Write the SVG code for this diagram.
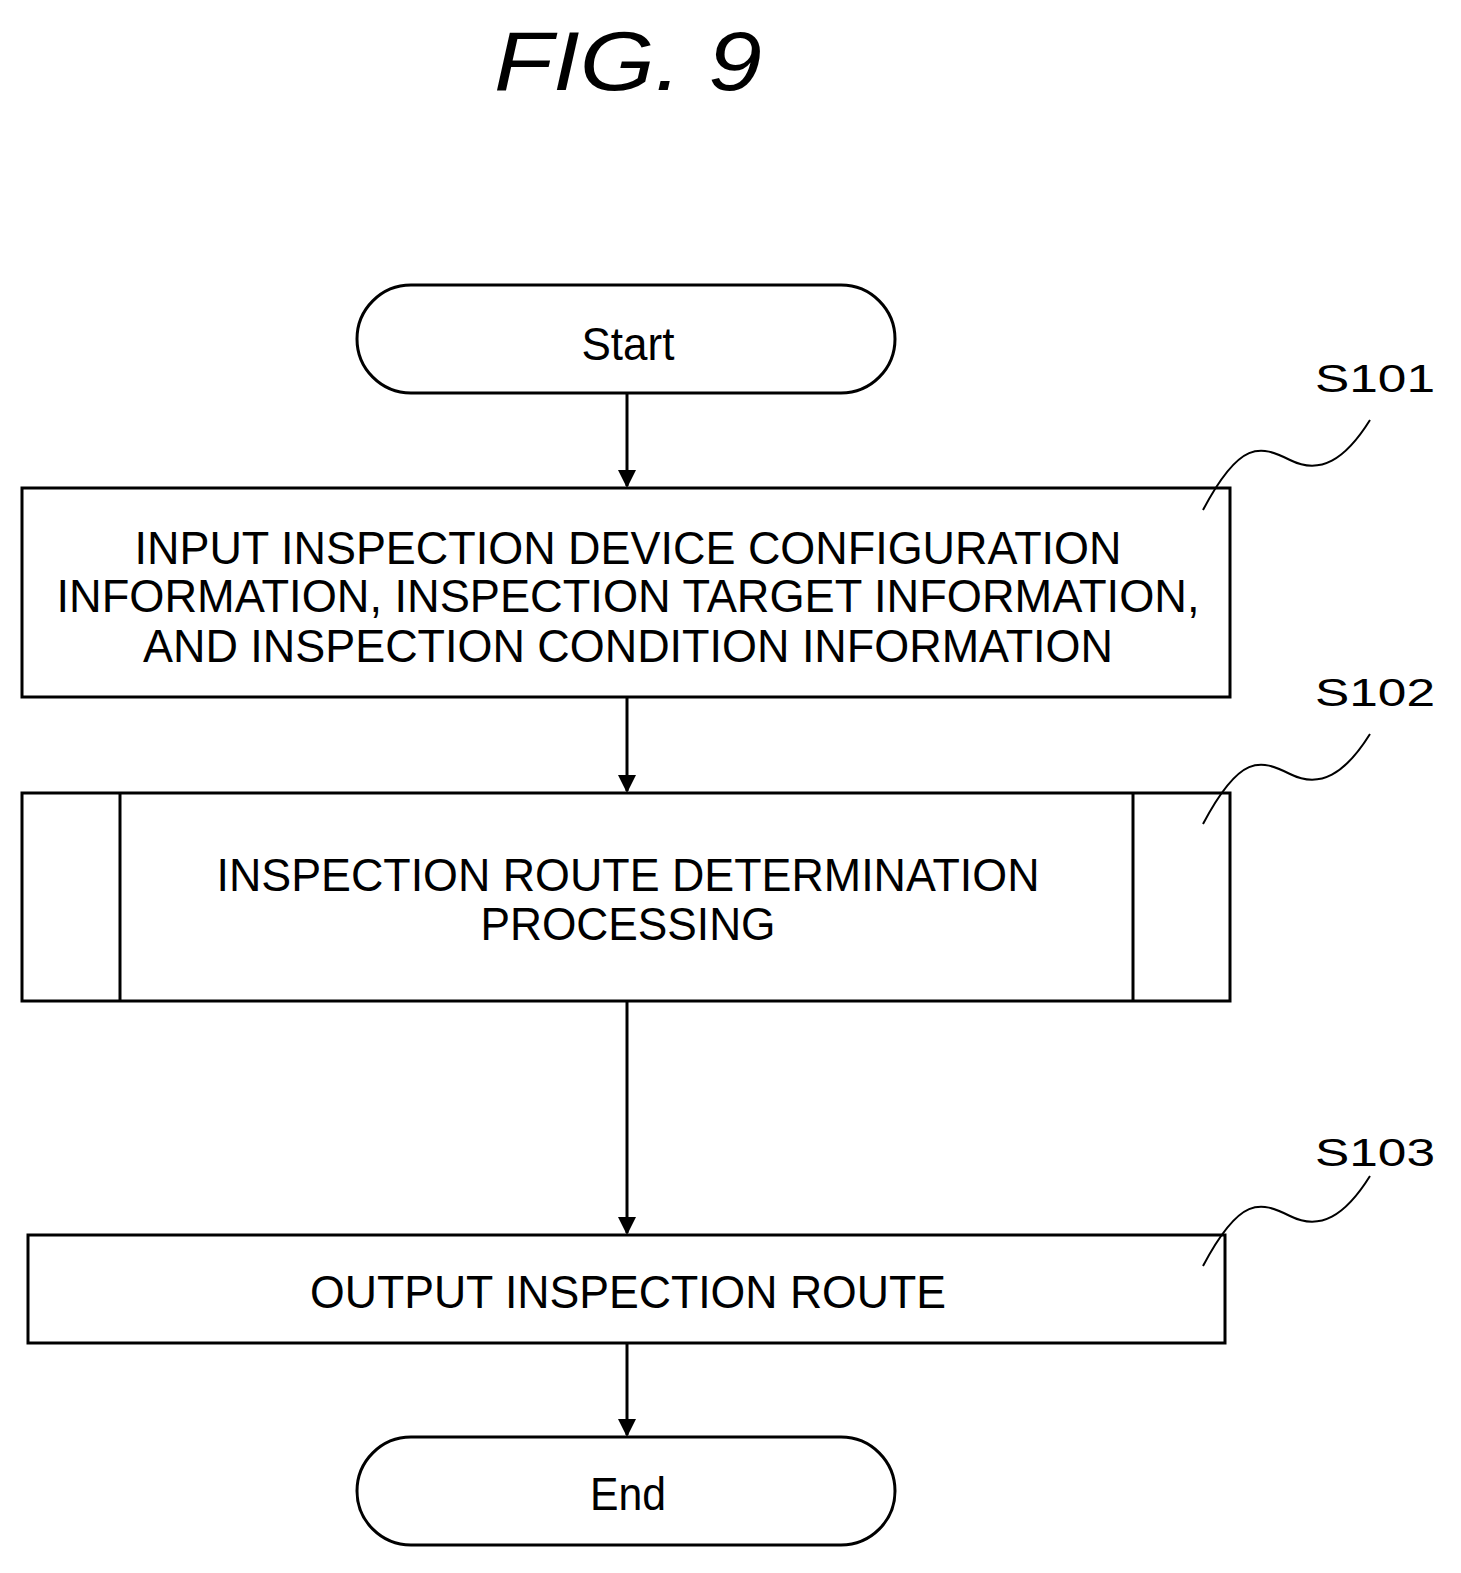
<svg xmlns="http://www.w3.org/2000/svg" width="1461" height="1573" viewBox="0 0 1461 1573">
<defs><marker id="ah" markerWidth="18" markerHeight="22" refX="16" refY="9" orient="auto" markerUnits="userSpaceOnUse"><path d="M0,0 L18,9 L0,18 Z" fill="#000"/></marker>
<style>
.b{fill:#fff;stroke:#000;stroke-width:3}
.t{font-family:"Liberation Sans",Arial,sans-serif;font-size:46px;fill:#000;text-anchor:middle}
.l{font-family:"Liberation Sans",Arial,sans-serif;font-size:38px;fill:#000}
.c{stroke:#000;stroke-width:3;fill:none}
.s{stroke:#000;stroke-width:2;fill:none}
</style></defs>
<rect width="1461" height="1573" fill="#fff"/>
<text x="628" y="90" font-family="Liberation Sans,Arial,sans-serif" font-style="italic" font-size="84" text-anchor="middle" textLength="268" lengthAdjust="spacingAndGlyphs">FIG. 9</text>
<g id="start"><rect class="b" x="357" y="285" width="538" height="108" rx="54"/><text class="t" x="628" y="360" font-size="50" textLength="93" lengthAdjust="spacingAndGlyphs">Start</text></g>
<g id="s101"><rect class="b" x="22" y="488" width="1208" height="209"/>
<text class="t" x="628" y="564" textLength="987" lengthAdjust="spacingAndGlyphs">INPUT INSPECTION DEVICE CONFIGURATION</text>
<text class="t" x="628" y="612" textLength="1143" lengthAdjust="spacingAndGlyphs">INFORMATION, INSPECTION TARGET INFORMATION,</text>
<text class="t" x="628" y="662" textLength="970" lengthAdjust="spacingAndGlyphs">AND INSPECTION CONDITION INFORMATION</text>
<text class="l" x="1315" y="392" textLength="120" lengthAdjust="spacingAndGlyphs">S101</text><path class="s" d="M1203,510 C1240,440 1260,445 1290,460 C1320,475 1345,460 1370,420"/></g>
<g id="s102"><rect class="b" x="22" y="793" width="1208" height="208"/><line class="c" x1="120" y1="793" x2="120" y2="1001"/><line class="c" x1="1133" y1="793" x2="1133" y2="1001"/>
<text class="t" x="628" y="891" textLength="823" lengthAdjust="spacingAndGlyphs">INSPECTION ROUTE DETERMINATION</text>
<text class="t" x="628" y="940" textLength="295" lengthAdjust="spacingAndGlyphs">PROCESSING</text>
<text class="l" x="1315" y="706" textLength="120" lengthAdjust="spacingAndGlyphs">S102</text><path class="s" d="M1203,824 C1240,754 1260,759 1290,774 C1320,789 1345,774 1370,734"/></g>
<g id="s103"><rect class="b" x="28" y="1235" width="1197" height="108"/>
<text class="t" x="628" y="1308" font-size="50" textLength="636" lengthAdjust="spacingAndGlyphs">OUTPUT INSPECTION ROUTE</text>
<text class="l" x="1315" y="1166" textLength="120" lengthAdjust="spacingAndGlyphs">S103</text><path class="s" d="M1203,1266 C1240,1196 1260,1201 1290,1216 C1320,1231 1345,1216 1370,1176"/></g>
<g id="end"><rect class="b" x="357" y="1437" width="538" height="108" rx="54"/><text class="t" x="628" y="1510" font-size="50" textLength="76" lengthAdjust="spacingAndGlyphs">End</text></g>
<g id="connectors">
<line class="c" x1="627" y1="393" x2="627" y2="486" marker-end="url(#ah)"/>
<line class="c" x1="627" y1="697" x2="627" y2="791" marker-end="url(#ah)"/>
<line class="c" x1="627" y1="1001" x2="627" y2="1233" marker-end="url(#ah)"/>
<line class="c" x1="627" y1="1343" x2="627" y2="1435" marker-end="url(#ah)"/>
</g>
</svg>
